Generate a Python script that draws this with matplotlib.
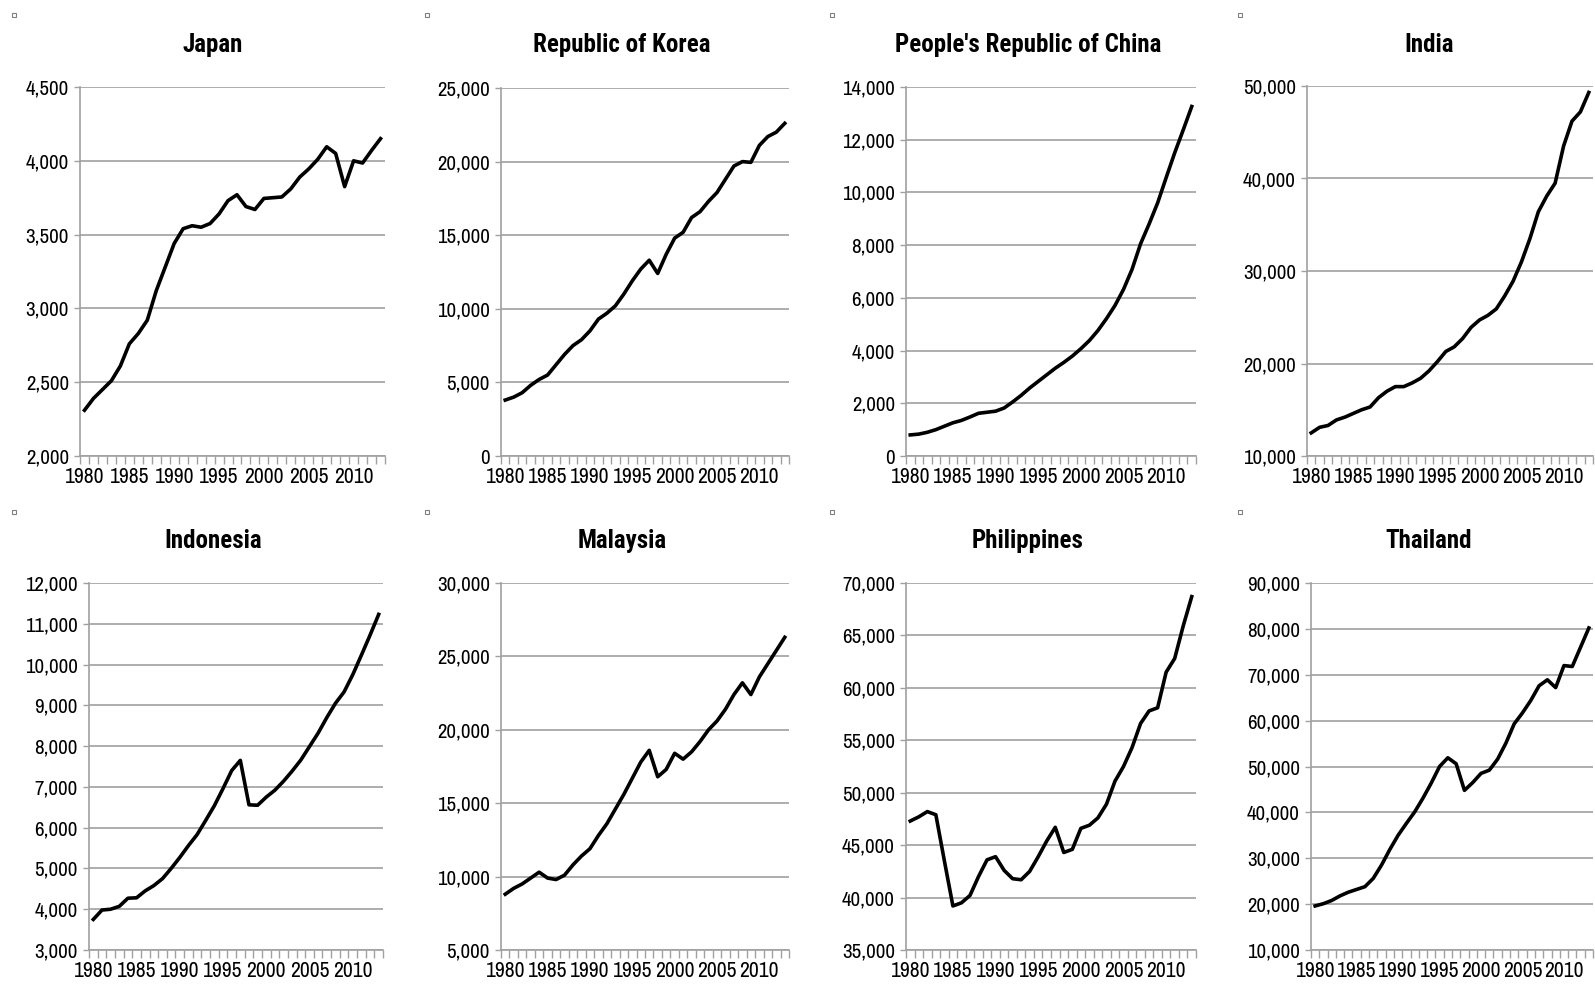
import matplotlib
matplotlib.use("Agg")
import matplotlib.pyplot as plt
from matplotlib.lines import Line2D
from matplotlib.ticker import FuncFormatter, MultipleLocator, FixedLocator
from matplotlib import font_manager

# narrow sans like the original chart, falling back to the standard ones
wanted = ['Liberation Sans Narrow', 'Arial Narrow', 'Archivo Narrow', 'Roboto Condensed',
          'Liberation Sans', 'DejaVu Sans']
fonts = font_manager.fontManager.ttflist
installed = {f.name for f in fonts}
plt.rcParams['font.family'] = [f for f in wanted if f in installed] or ['DejaVu Sans']
bold_ok = {f.name for f in fonts if isinstance(f.weight, int) and f.weight >= 700
           or f.weight == 'bold'}
title_family = [f for f in wanted if f in bold_ok] or ['DejaVu Sans']

years = list(range(1980, 2014))

japan = [2310, 2390, 2450, 2510, 2610, 2760, 2830, 2920, 3120, 3280,
         3440, 3540, 3560, 3550, 3575, 3640, 3730, 3770, 3690, 3670,
         3745, 3750, 3755, 3810, 3890, 3945, 4010, 4095, 4050, 3825,
         4000, 3985, 4070, 4150]
korea = [3800, 4000, 4300, 4800, 5200, 5500, 6200, 6900, 7500, 7900,
         8500, 9300, 9700, 10200, 11000, 11900, 12700, 13300, 12400, 13700,
         14800, 15200, 16200, 16600, 17300, 17900, 18800, 19700, 20000, 19950,
         21100, 21700, 22000, 22600]
china = [800, 830, 900, 1000, 1130, 1260, 1350, 1480, 1620, 1660,
         1700, 1820, 2050, 2300, 2580, 2830, 3080, 3330, 3550, 3790,
         4070, 4380, 4760, 5210, 5710, 6320, 7080, 8050, 8800, 9600,
         10560, 11500, 12370, 13260]
india = [12500, 13100, 13300, 13900, 14200, 14600, 15000, 15300, 16300, 17000,
         17500, 17500, 17900, 18400, 19200, 20200, 21300, 21800, 22700, 23900,
         24700, 25200, 25900, 27300, 28900, 31000, 33500, 36400, 38100, 39500,
         43500, 46200, 47200, 49300]
indonesia = [3750, 3980, 4000, 4070, 4270, 4280, 4450, 4580, 4750, 5000,
             5270, 5560, 5830, 6180, 6540, 6960, 7400, 7650, 6560, 6550,
             6750, 6920, 7140, 7390, 7660, 7990, 8320, 8700, 9050, 9330,
             9750, 10230, 10720, 11230]
malaysia = [8800, 9200, 9500, 9900, 10300, 9900, 9800, 10100, 10800, 11400,
            11900, 12800, 13600, 14600, 15600, 16700, 17800, 18600, 16800, 17300,
            18400, 18000, 18500, 19200, 20000, 20600, 21400, 22400, 23200, 22400,
            23600, 24500, 25400, 26300]
philippines = [47300, 47700, 48200, 47900, 43500, 39200, 39500, 40200, 42000, 43600,
               43900, 42600, 41800, 41700, 42500, 43900, 45400, 46700, 44300, 44600,
               46600, 46900, 47600, 48900, 51100, 52500, 54300, 56600, 57800, 58100,
               61500, 62800, 65900, 68700]
thailand = [19600, 20100, 20800, 21800, 22600, 23200, 23800, 25600, 28500, 31900,
            35000, 37600, 40100, 43100, 46400, 50000, 51900, 50600, 44800, 46500,
            48500, 49200, 51600, 55100, 59300, 61700, 64400, 67600, 68900, 67200,
            72000, 71800, 76000, 80200]

titles = ["Japan", "Republic of Korea", "People's Republic of China", "India",
          "Indonesia", "Malaysia", "Philippines", "Thailand"]
series = [japan, korea, china, india, indonesia, malaysia, philippines, thailand]
ylims = [(2000, 4500), (0, 25000), (0, 14000), (10000, 50000),
         (3000, 12000), (5000, 30000), (35000, 70000), (10000, 90000)]
ysteps = [500, 5000, 2000, 10000, 1000, 5000, 5000, 10000]

W, H = 1595, 988
# plot areas in pixels: left, top, right, bottom
rects = [(80, 87, 385, 456), (501, 88, 789, 456), (906, 87, 1196, 456), (1307, 86, 1593, 456),
         (89, 583, 383, 950), (501, 583, 789, 950), (906, 583, 1196, 950), (1311, 583, 1593, 950)]
title_x = [213, 622, 1028, 1429]
title_y = [45, 541]
marks_x = [14, 427, 832, 1240]
marks_y = [15, 512]

fig = plt.figure(figsize=(W / 100, H / 100), dpi=100)
grey = '#a0a0a0'

for i, (name, vals) in enumerate(zip(titles, series)):
    l, t, r, b = rects[i]
    ax = fig.add_axes([l / W, 1 - b / H, (r - l) / W, (b - t) / H])
    x = list(range(len(years)))
    ax.plot(x, vals, color='black', lw=2.6, solid_joinstyle='round', clip_on=False, zorder=3)
    ax.set_xlim(-0.5, len(years) - 0.5)
    ax.set_ylim(*ylims[i])
    ax.yaxis.set_major_locator(MultipleLocator(ysteps[i]))
    ax.yaxis.set_major_formatter(FuncFormatter(lambda v, p: f"{int(v):,}"))
    ax.grid(axis='y', color=grey, lw=1.2)
    ax.set_axisbelow(True)

    ax.xaxis.set_major_locator(FixedLocator([k for k in x if years[k] % 5 == 0]))
    ax.set_xticklabels([str(years[k]) for k in x if years[k] % 5 == 0])
    ax.xaxis.set_minor_locator(FixedLocator([k - 0.5 for k in range(len(years) + 1)]))
    ax.tick_params(axis='x', which='major', length=0, pad=8, labelsize=15.5)
    ax.tick_params(axis='x', which='minor', length=6, width=1, color=grey, direction='out')
    ax.tick_params(axis='y', length=4, width=1, color=grey, pad=4, labelsize=15)

    for s in ['top', 'right']:
        ax.spines[s].set_visible(False)
    for s in ['left', 'bottom']:
        ax.spines[s].set_color(grey)
        ax.spines[s].set_linewidth(1.2)

    row, col = divmod(i, 4)
    fig.text(title_x[col] / W, 1 - title_y[row] / H, name, ha='center', va='center',
             fontsize=18, fontweight='bold', family=title_family)
    fig.add_artist(Line2D([marks_x[col] / W], [1 - marks_y[row] / H], marker='s',
                          markersize=3.5, markerfacecolor='white', markeredgecolor='#808080',
                          markeredgewidth=0.8, linestyle='none'))

fig.savefig("out.png", dpi=100)
